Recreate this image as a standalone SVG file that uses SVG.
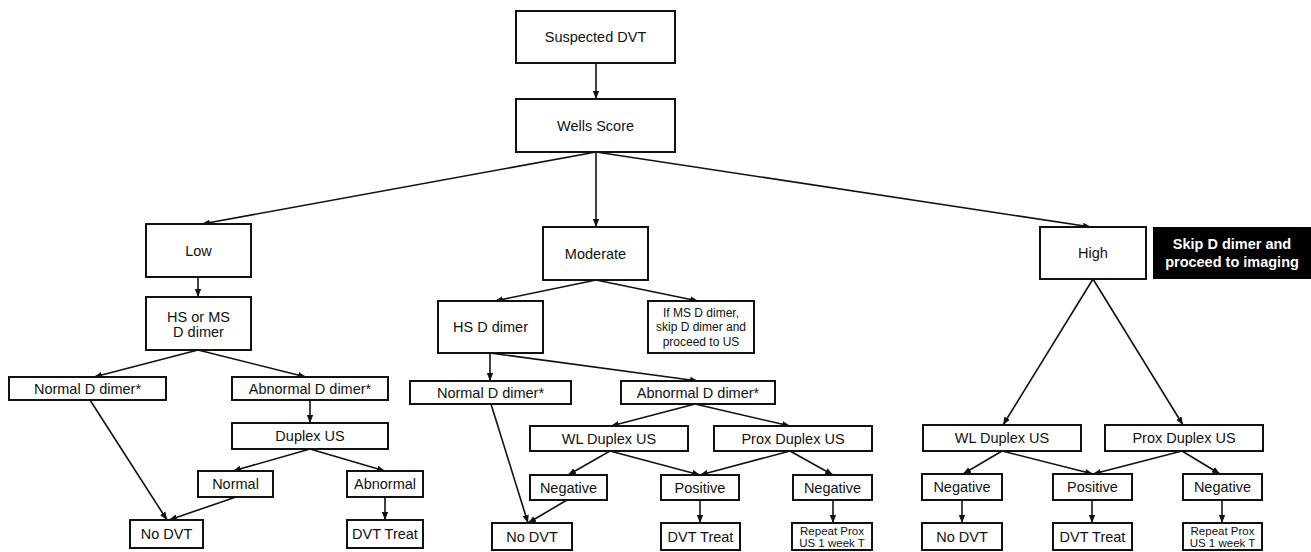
<svg xmlns="http://www.w3.org/2000/svg" width="1311" height="552" viewBox="0 0 1311 552">
<style>
  .box { fill: #ffffff; stroke: #111111; stroke-width: 2; }
  .dark { fill: #000000; stroke: #000000; stroke-width: 2; }
  .t { font-family: "Liberation Sans", Arial, sans-serif; font-size: 14.5px; fill: #111111; text-anchor: middle; dominant-baseline: central; }
  .s { font-size: 12px; }
  .xs { font-size: 11.5px; }
  .w { fill: #ffffff; font-weight: bold; }
  .c { stroke: #111111; stroke-width: 1.6; fill: none; marker-end: url(#ah); }
</style>
<defs>
  <marker id="ah" markerUnits="userSpaceOnUse" markerWidth="8" markerHeight="8" viewBox="0 0 8 8" refX="8" refY="4" orient="auto">
    <path d="M0,0.8 L8,4 L0,7.2 Z" fill="#111111"/>
  </marker>
</defs>
<rect width="1311" height="552" fill="#ffffff"/>

<g id="connectors">
  <line class="c" x1="596" y1="63" x2="596" y2="99"/>
  <line class="c" x1="596" y1="152" x2="202" y2="224"/>
  <line class="c" x1="596" y1="152" x2="596" y2="227"/>
  <line class="c" x1="596" y1="152" x2="1091" y2="227"/>
  <line class="c" x1="198" y1="277" x2="198" y2="297"/>
  <line class="c" x1="198" y1="350" x2="94" y2="377"/>
  <line class="c" x1="198" y1="350" x2="306" y2="377"/>
  <line class="c" x1="596" y1="280" x2="495" y2="301"/>
  <line class="c" x1="596" y1="280" x2="698" y2="301"/>
  <line class="c" x1="490" y1="353" x2="490" y2="381"/>
  <line class="c" x1="490" y1="353" x2="698" y2="381"/>
  <line class="c" x1="1093" y1="279" x2="1003" y2="425"/>
  <line class="c" x1="1093" y1="279" x2="1183" y2="425"/>
  <line class="c" x1="310" y1="400" x2="310" y2="423"/>
  <line class="c" x1="310" y1="449" x2="233" y2="471"/>
  <line class="c" x1="310" y1="449" x2="385" y2="471"/>
  <line class="c" x1="90" y1="400" x2="167" y2="520"/>
  <line class="c" x1="236" y1="497" x2="169" y2="520"/>
  <line class="c" x1="385" y1="497" x2="385" y2="520"/>
  <line class="c" x1="491" y1="404" x2="528" y2="523"/>
  <line class="c" x1="567" y1="500" x2="528" y2="523"/>
  <line class="c" x1="695" y1="404" x2="611" y2="426"/>
  <line class="c" x1="695" y1="404" x2="790" y2="426"/>
  <line class="c" x1="610" y1="451" x2="568" y2="475"/>
  <line class="c" x1="610" y1="451" x2="700" y2="475"/>
  <line class="c" x1="790" y1="451" x2="700" y2="475"/>
  <line class="c" x1="790" y1="451" x2="833" y2="475"/>
  <line class="c" x1="700" y1="500" x2="700" y2="523"/>
  <line class="c" x1="833" y1="500" x2="833" y2="523"/>
  <line class="c" x1="1002" y1="451" x2="963" y2="474"/>
  <line class="c" x1="1002" y1="451" x2="1093" y2="474"/>
  <line class="c" x1="1182" y1="451" x2="1093" y2="474"/>
  <line class="c" x1="1182" y1="451" x2="1220" y2="474"/>
  <line class="c" x1="962" y1="500" x2="962" y2="523"/>
  <line class="c" x1="1092" y1="500" x2="1092" y2="523"/>
  <line class="c" x1="1222" y1="500" x2="1222" y2="523"/>
</g>

<g id="n_suspected"><rect class="box" x="516" y="11" width="159" height="52"/><text class="t" x="595.5" y="37">Suspected DVT</text></g>
<g id="n_wells"><rect class="box" x="516" y="99" width="159" height="53"/><text class="t" x="595.5" y="126">Wells Score</text></g>
<g id="n_low"><rect class="box" x="146" y="224" width="105" height="53"/><text class="t" x="198.5" y="251">Low</text></g>
<g id="n_hsms"><rect class="box" x="146" y="297" width="105" height="53"/><text class="t" x="198.5" y="317">HS or MS</text><text class="t" x="198.5" y="332">D dimer</text></g>
<g id="n_moderate"><rect class="box" x="543" y="227" width="105" height="53"/><text class="t" x="595.5" y="254">Moderate</text></g>
<g id="n_hsd"><rect class="box" x="438" y="301" width="105" height="52"/><text class="t" x="490.5" y="327">HS D dimer</text></g>
<g id="n_ifms"><rect class="box" x="648" y="301" width="106" height="52"/><text class="t s" x="701" y="312.5">If MS D dimer,</text><text class="t s" x="701" y="327">skip D dimer and</text><text class="t s" x="701" y="341.5">proceed to US</text></g>
<g id="n_high"><rect class="box" x="1040" y="227" width="106" height="52"/><text class="t" x="1093" y="253">High</text></g>
<g id="n_skip"><rect class="dark" x="1154" y="228" width="156" height="50"/><text class="t w" x="1232" y="244">Skip D dimer and</text><text class="t w" x="1232" y="262">proceed to imaging</text></g>

<g id="n_normal_dd_l"><rect class="box" x="9" y="377" width="157" height="23"/><text class="t" x="87.5" y="388.5">Normal D dimer*</text></g>
<g id="n_abn_dd_l"><rect class="box" x="232" y="377" width="156" height="23"/><text class="t" x="310" y="388.5">Abnormal D dimer*</text></g>
<g id="n_duplex_l"><rect class="box" x="232" y="423" width="156" height="26"/><text class="t" x="310" y="436">Duplex US</text></g>
<g id="n_normal_l"><rect class="box" x="198" y="471" width="75" height="26"/><text class="t" x="235.5" y="484">Normal</text></g>
<g id="n_abnormal_l"><rect class="box" x="347" y="471" width="76" height="26"/><text class="t" x="385" y="484">Abnormal</text></g>
<g id="n_nodvt_l"><rect class="box" x="130" y="520" width="73" height="28"/><text class="t" x="166.5" y="534">No DVT</text></g>
<g id="n_dvt_l"><rect class="box" x="347" y="520" width="76" height="28"/><text class="t" x="385" y="534">DVT Treat</text></g>

<g id="n_normal_dd_m"><rect class="box" x="410" y="381" width="161" height="23"/><text class="t" x="490.5" y="392.5">Normal D dimer*</text></g>
<g id="n_abn_dd_m"><rect class="box" x="621" y="381" width="154" height="23"/><text class="t" x="698" y="392.5">Abnormal D dimer*</text></g>
<g id="n_wl_m"><rect class="box" x="530" y="426" width="158" height="25"/><text class="t" x="609" y="438.5">WL Duplex US</text></g>
<g id="n_prox_m"><rect class="box" x="714" y="426" width="158" height="25"/><text class="t" x="793" y="438.5">Prox Duplex US</text></g>
<g id="n_neg1_m"><rect class="box" x="530" y="475" width="77" height="25"/><text class="t" x="568.5" y="487.5">Negative</text></g>
<g id="n_pos_m"><rect class="box" x="661" y="475" width="78" height="25"/><text class="t" x="700" y="487.5">Positive</text></g>
<g id="n_neg2_m"><rect class="box" x="793" y="475" width="79" height="25"/><text class="t" x="832.5" y="487.5">Negative</text></g>
<g id="n_nodvt_m"><rect class="box" x="492" y="523" width="80" height="27"/><text class="t" x="532" y="536.5">No DVT</text></g>
<g id="n_dvt_m"><rect class="box" x="661" y="523" width="79" height="27"/><text class="t" x="700.5" y="536.5">DVT Treat</text></g>
<g id="n_repeat_m"><rect class="box" x="792" y="523" width="80" height="27"/><text class="t xs" x="832" y="531">Repeat Prox</text><text class="t xs" x="832" y="542.5">US 1 week T</text></g>

<g id="n_wl_r"><rect class="box" x="923" y="425" width="158" height="26"/><text class="t" x="1002" y="438">WL Duplex US</text></g>
<g id="n_prox_r"><rect class="box" x="1105" y="425" width="158" height="26"/><text class="t" x="1184" y="438">Prox Duplex US</text></g>
<g id="n_neg1_r"><rect class="box" x="922" y="474" width="80" height="26"/><text class="t" x="962" y="487">Negative</text></g>
<g id="n_pos_r"><rect class="box" x="1053" y="474" width="79" height="26"/><text class="t" x="1092.5" y="487">Positive</text></g>
<g id="n_neg2_r"><rect class="box" x="1183" y="474" width="79" height="26"/><text class="t" x="1222.5" y="487">Negative</text></g>
<g id="n_nodvt_r"><rect class="box" x="922" y="523" width="80" height="27"/><text class="t" x="962" y="536.5">No DVT</text></g>
<g id="n_dvt_r"><rect class="box" x="1053" y="523" width="79" height="27"/><text class="t" x="1092.5" y="536.5">DVT Treat</text></g>
<g id="n_repeat_r"><rect class="box" x="1183" y="523" width="79" height="27"/><text class="t xs" x="1222.5" y="531">Repeat Prox</text><text class="t xs" x="1222.5" y="542.5">US 1 week T</text></g>
</svg>
